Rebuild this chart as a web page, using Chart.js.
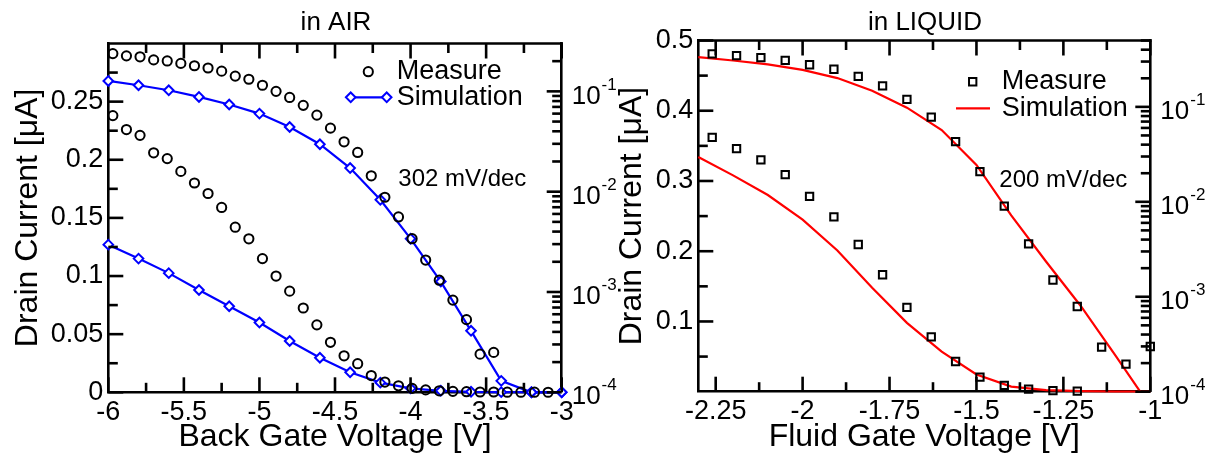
<!DOCTYPE html>
<html>
<head>
<meta charset="utf-8">
<title>Drain current vs gate voltage</title>
<script src="https://cdn.jsdelivr.net/npm/chart.js@4.4.1/dist/chart.umd.min.js"></script>
<style>
  html, body { margin: 0; padding: 0; background: #fff; }
  #wrap { position: relative; width: 1216px; height: 459px; overflow: hidden; background: #fff; }
  #air { position: absolute; left: 0; top: 0; width: 640px; height: 459px; }
  #liquid { position: absolute; left: 600px; top: 0; width: 616px; height: 459px; }
</style>
</head>
<body>
<div id="wrap">
  <canvas id="air" width="640" height="459"></canvas>
  <canvas id="liquid" width="616" height="459"></canvas>
</div>
<script>
// ---------------- data: back-gated device in air ----------------
const airMeasureV = [-5.97, -5.88, -5.79, -5.70, -5.61, -5.52, -5.43, -5.34, -5.25, -5.16, -5.07,
                     -4.98, -4.89, -4.80, -4.71, -4.62, -4.53, -4.44, -4.35, -4.26, -4.17, -4.08,
                     -3.99, -3.90, -3.81, -3.72, -3.63, -3.54, -3.45, -3.36, -3.27, -3.18, -3.09];
const airMeasureI = [0.238, 0.226, 0.221, 0.206, 0.201, 0.190, 0.180, 0.171, 0.159, 0.142, 0.132,
                     0.115, 0.100, 0.087, 0.0725, 0.058, 0.043, 0.0314, 0.0246, 0.0144, 0.0088, 0.0056,
                     0.0034, 0.00208, 0.00131, 0.00083, 0.00053, 0.00024, 0.00025, 0.00008, 0.00007, 0.00007, 0.00006];
const airSimV = [-6.0, -5.8, -5.6, -5.4, -5.2, -5.0, -4.8, -4.6, -4.4, -4.2, -4.0, -3.8, -3.6, -3.4, -3.2, -3.0];
const airSimI = [0.127, 0.115, 0.1025, 0.088, 0.074, 0.060, 0.0441, 0.0297, 0.0172, 0.0083, 0.0034,
                 0.00127, 0.00041, 0.00013, 0.0001, 0.0001];

const airXTicks = [-6, -5.5, -5, -4.5, -4, -3.5, -3];
const airXMinor = [-5.75, -5.25, -4.75, -4.25, -3.75, -3.25];
const airYTicks = [0, 0.05, 0.1, 0.15, 0.2, 0.25];
const airYMinor = [0.025, 0.075, 0.125, 0.175, 0.225, 0.275];

// ---------------- data: fluid-gated device in liquid ----------------
const liqMeasureV = [-2.26, -2.19, -2.12, -2.05, -1.98, -1.91, -1.84, -1.77, -1.70, -1.63,
                     -1.56, -1.49, -1.42, -1.35, -1.28, -1.21, -1.14, -1.07, -1.00];
const liqMeasureI = [0.362, 0.346, 0.330, 0.309, 0.278, 0.249, 0.2095, 0.1665, 0.120, 0.078,
                     0.043, 0.0208, 0.0090, 0.0036, 0.0015, 0.00079, 0.000295, 0.000195, 0.000299];
const liqLinearCount = 16;   // points shown on the linear axis
const liqSimV = [-2.3, -2.2, -2.1, -2.0, -1.9, -1.8, -1.7, -1.6, -1.5, -1.4, -1.3, -1.2, -1.1, -1.0];
const liqSimI = [0.334, 0.308, 0.280, 0.245, 0.201, 0.148, 0.098, 0.057, 0.0245, 0.0072,
                 0.00235, 0.00080, 0.00024, 0.00007];

const liqXTicks = [-2.25, -2, -1.75, -1.5, -1.25, -1];
const liqXMinor = [-2.125, -1.875, -1.625, -1.375, -1.125];
const liqYTicks = [0.1, 0.2, 0.3, 0.4, 0.5];
const liqYMinor = [0.05, 0.15, 0.25, 0.35, 0.45];

const logDecades = [-4, -3, -2, -1];
const LOG_MIN = 1e-4;

// ---------------- styling ----------------
const FONT = "'Liberation Sans', Arial, Helvetica, sans-serif";
const AXIS_W = 2.6;
const MAJOR_LEN = 15;
const MINOR_LEN = 9.5;
const BLUE = '#0000ff';
const RED = '#ff0000';

const pts = (xs, ys) => xs.map((x, i) => ({ x, y: ys[i] }));
const logPts = (xs, ys) => xs.map((x, i) => ({ x, y: ys[i] >= LOG_MIN ? ys[i] : null }));
const fmtTick = v => String(Math.round(v * 1000) / 1000);

function decor(p) {
  return {
    id: 'panelDecor',
    afterDraw(chart) {
      const { ctx, chartArea: a, scales } = chart;
      const line = (x1, y1, x2, y2) => { ctx.beginPath(); ctx.moveTo(x1, y1); ctx.lineTo(x2, y2); ctx.stroke(); };
      ctx.save();
      ctx.strokeStyle = '#000';
      ctx.lineWidth = AXIS_W;
      ctx.lineCap = 'square';
      line(a.left, a.top, a.right, a.top);
      ctx.lineCap = 'butt';

      // inward tick marks on all four sides
      const xMarks = (vals, len) => vals.forEach(v => {
        const x = scales.x.getPixelForValue(v);
        line(x, a.bottom, x, a.bottom - len);
        line(x, a.top, x, a.top + len);
      });
      xMarks(p.xTicks, MAJOR_LEN);
      xMarks(p.xMinor, MINOR_LEN);
      p.yTicks.forEach(v => { const y = scales.y.getPixelForValue(v); line(a.left, y, a.left + MAJOR_LEN, y); });
      p.yMinor.forEach(v => { const y = scales.y.getPixelForValue(v); line(a.left, y, a.left + MINOR_LEN, y); });
      logDecades.forEach(k => {
        const base = Math.pow(10, k);
        const y = scales.y2.getPixelForValue(base);
        line(a.right, y, a.right - MAJOR_LEN, y);
        for (let m = 2; m <= 9; m++) {
          const v = m * base;
          if (v > p.yMax) break;
          const ym = scales.y2.getPixelForValue(v);
          line(a.right, ym, a.right - MINOR_LEN, ym);
        }
      });

      // log-axis labels written as powers of ten
      ctx.fillStyle = '#000';
      ctx.textAlign = 'left';
      ctx.textBaseline = 'middle';
      logDecades.forEach(k => {
        const y = scales.y2.getPixelForValue(Math.pow(10, k));
        const x0 = a.right + 10;
        ctx.font = `26px ${FONT}`;
        ctx.fillText('10', x0, y + 5);
        const w = ctx.measureText('10').width;
        ctx.font = `17px ${FONT}`;
        ctx.fillText(String(k), x0 + w + 1, y - 6.5);
      });

      // panel title
      ctx.font = `26px ${FONT}`;
      ctx.textAlign = 'center';
      ctx.fillText(p.title, p.titleX, p.titleY);

      // legend
      ctx.font = `27px ${FONT}`;
      ctx.textAlign = 'left';
      const L = p.legend;
      ctx.fillText('Measure', L.textX, L.row1);
      ctx.fillText('Simulation', L.textX, L.row2);
      ctx.lineWidth = 2;
      ctx.strokeStyle = '#000';
      ctx.fillStyle = 'rgba(0,0,0,0)';
      Chart.helpers.drawPoint(ctx, { pointStyle: p.measureStyle, radius: p.measureRadius, borderWidth: 2, rotation: 0 }, L.markX, L.row1);
      ctx.strokeStyle = p.simColor;
      ctx.lineWidth = 2.2;
      line(L.lineX1, L.row2, L.lineX2, L.row2);
      if (p.simMarkers) {
        ctx.fillStyle = '#fff';
        ctx.lineWidth = 2;
        [L.lineX1, L.lineX2].forEach(x => Chart.helpers.drawPoint(ctx, { pointStyle: 'rectRot', radius: 4.8, borderWidth: 2, rotation: 0 }, x, L.row2));
      }

      // subthreshold slope note
      ctx.fillStyle = '#000';
      ctx.font = `24px ${FONT}`;
      ctx.fillText(p.note, p.noteX, p.noteY);
      ctx.restore();
    }
  };
}

function buildPanel(canvasId, p) {
  const W = p.width, H = 459;
  return new Chart(document.getElementById(canvasId), {
    type: 'line',
    data: { datasets: p.datasets },
    options: {
      responsive: false,
      animation: false,
      devicePixelRatio: 1,
      events: [],
      layout: { padding: { top: p.area.top, left: 0, right: 0, bottom: 0 } },
      plugins: { legend: { display: false }, tooltip: { enabled: false }, title: { display: false } },
      scales: {
        x: {
          type: 'linear', position: 'bottom', min: p.xMin, max: p.xMax,
          afterBuildTicks: s => { s.ticks = p.xTicks.map(value => ({ value })); },
          afterFit: s => { s.height = H - p.area.bottom; },
          grid: { display: false, drawTicks: false },
          border: { display: true, color: '#000', width: AXIS_W },
          ticks: { color: '#000', padding: 4, maxRotation: 0, autoSkip: false,
                   font: { family: FONT, size: 27 }, callback: v => fmtTick(v) },
          title: { display: true, text: p.xTitle, color: '#000',
                   font: { family: FONT, size: 32 }, padding: { top: 0, bottom: 3 } }
        },
        y: {
          type: 'linear', position: 'left', min: 0, max: p.yMax,
          afterBuildTicks: s => { s.ticks = p.yTicks.map(value => ({ value })); },
          afterFit: s => { s.width = p.area.left; },
          grid: { display: false, drawTicks: false },
          border: { display: true, color: '#000', width: AXIS_W },
          ticks: { color: '#000', padding: 5, font: { family: FONT, size: 27 }, callback: v => fmtTick(v) },
          title: { display: true, text: 'Drain Current [μA]', color: '#000',
                   font: { family: FONT, size: 32 }, padding: { top: p.yTitlePad, bottom: 0 } }
        },
        y2: {
          type: 'logarithmic', position: 'right', min: LOG_MIN, max: p.yMax,
          afterFit: s => { s.width = W - p.area.right; },
          grid: { display: false, drawTicks: false },
          border: { display: true, color: '#000', width: AXIS_W },
          ticks: { display: false }
        }
      }
    },
    plugins: [decor(p)]
  });
}

// ---------------- panel: in AIR ----------------
buildPanel('air', {
  width: 640,
  area: { left: 108.3, right: 561.7, top: 43.5, bottom: 392.3 },
  xMin: -6, xMax: -3, yMax: 0.3,
  xTicks: airXTicks, xMinor: airXMinor, yTicks: airYTicks, yMinor: airYMinor,
  xTitle: 'Back Gate Voltage [V]', yTitlePad: 9,
  title: 'in AIR', titleX: 336, titleY: 23,
  legend: { textX: 396.7, row1: 71.7, row2: 97.3, markX: 368.3, lineX1: 350.7, lineX2: 386.7 },
  measureStyle: 'circle', measureRadius: 4.6, simColor: BLUE, simMarkers: true,
  note: '302 mV/dec', noteX: 398.3, noteY: 179.3,
  datasets: [
    { label: 'Measure', data: pts(airMeasureV, airMeasureI), yAxisID: 'y', showLine: false,
      pointStyle: 'circle', pointRadius: 4.6, pointBorderWidth: 2, pointBorderColor: '#000',
      pointBackgroundColor: 'rgba(0,0,0,0)', clip: false },
    { label: 'Measure (log)', data: logPts(airMeasureV, airMeasureI), yAxisID: 'y2', showLine: false,
      pointStyle: 'circle', pointRadius: 4.6, pointBorderWidth: 2, pointBorderColor: '#000',
      pointBackgroundColor: 'rgba(0,0,0,0)', clip: false },
    { label: 'Simulation', data: pts(airSimV, airSimI), yAxisID: 'y', borderColor: BLUE, borderWidth: 2.2,
      tension: 0, pointStyle: 'rectRot', pointRadius: 4.8, pointBorderWidth: 2, pointBorderColor: BLUE,
      pointBackgroundColor: '#fff', clip: false },
    { label: 'Simulation (log)', data: logPts(airSimV, airSimI), yAxisID: 'y2', borderColor: BLUE, borderWidth: 2.2,
      tension: 0, pointStyle: 'rectRot', pointRadius: 4.8, pointBorderWidth: 2, pointBorderColor: BLUE,
      pointBackgroundColor: '#fff', clip: false }
  ]
});

// ---------------- panel: in LIQUID ----------------
buildPanel('liquid', {
  width: 616,
  area: { left: 98.3, right: 550.3, top: 40.5, bottom: 391.7 },
  xMin: -2.3, xMax: -1, yMax: 0.5,
  xTicks: liqXTicks, xMinor: liqXMinor, yTicks: liqYTicks, yMinor: liqYMinor,
  xTitle: 'Fluid Gate Voltage [V]', yTitlePad: 12.5,
  title: 'in LIQUID', titleX: 325, titleY: 23,
  legend: { textX: 401.7, row1: 81.7, row2: 108.3, markX: 372.7, lineX1: 356, lineX2: 390 },
  measureStyle: 'rect', measureRadius: 5.2, simColor: RED, simMarkers: false,
  note: '200 mV/dec', noteX: 399.3, noteY: 180.7,
  datasets: [
    { label: 'Measure', data: pts(liqMeasureV.slice(0, liqLinearCount), liqMeasureI.slice(0, liqLinearCount)),
      yAxisID: 'y', showLine: false, pointStyle: 'rect', pointRadius: 5.2, pointBorderWidth: 2,
      pointBorderColor: '#000', pointBackgroundColor: 'rgba(0,0,0,0)', clip: false },
    { label: 'Measure (log)', data: logPts(liqMeasureV, liqMeasureI), yAxisID: 'y2', showLine: false,
      pointStyle: 'rect', pointRadius: 5.2, pointBorderWidth: 2, pointBorderColor: '#000',
      pointBackgroundColor: 'rgba(0,0,0,0)', clip: false },
    { label: 'Simulation', data: pts(liqSimV, liqSimI), yAxisID: 'y', borderColor: RED, borderWidth: 2.2,
      tension: 0, pointRadius: 0, clip: 1 },
    { label: 'Simulation (log)', data: pts(liqSimV, liqSimI), yAxisID: 'y2', borderColor: RED, borderWidth: 2.2,
      tension: 0, pointRadius: 0, clip: 1 }
  ]
});
</script>
</body>
</html>
